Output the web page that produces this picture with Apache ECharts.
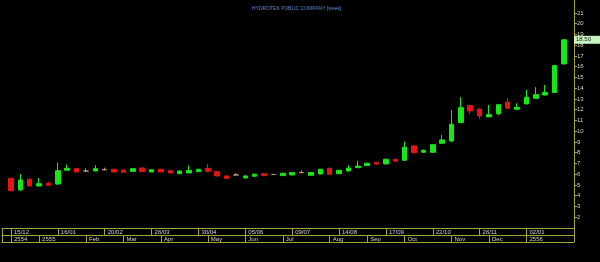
<!DOCTYPE html>
<html>
<head>
<meta charset="utf-8">
<script src="https://cdn.jsdelivr.net/npm/echarts@6/dist/echarts.min.js"></script>
<style>
html,body{margin:0;padding:0;background:#000;}
#main{width:600px;height:262px;}
</style>
</head>
<body>
<div id="main"></div>
<script>
// week index 0..59 (weekly bars from 15/12/2554)
const opens  = [5.62,4.55,5.53,4.91,5.15,5.09,6.37,6.52,6.30,6.30,6.42,6.46,6.39,6.27,6.58,6.21,6.46,6.33,6.05,6.12,
                6.24,6.55,6.24,5.84,5.93,5.65,5.81,6.05,5.98,5.87,5.93,6.15,5.90,6.02,6.55,6.05,6.30,6.61,6.80,7.10,
                6.96,7.39,7.30,8.63,8.04,8.04,8.88,9.09,10.80,12.38,12.07,11.33,11.63,12.69,12.04,12.54,13.06,13.37,13.60,16.26];
const closes = [4.47,5.47,4.91,5.12,4.98,6.33,6.55,6.21,6.30,6.52,6.42,6.21,6.18,6.52,6.24,6.42,6.21,6.12,6.30,6.35,
                6.46,6.27,5.84,5.62,5.93,5.84,6.00,5.87,5.98,6.09,6.15,6.15,6.15,6.46,6.00,6.37,6.58,6.76,7.02,6.95,
                7.39,7.21,8.51,8.00,8.23,8.75,9.19,10.65,12.19,11.88,11.42,11.54,12.47,12.14,12.22,13.16,13.40,13.60,16.10,18.50];
const lows   = [4.45,4.45,4.85,4.85,4.95,5.00,6.35,6.20,6.25,6.28,6.40,6.20,6.15,6.25,6.22,6.20,6.20,6.10,6.02,6.10,
                6.20,6.25,5.80,5.60,5.90,5.63,5.78,5.85,5.95,5.85,5.90,6.12,5.88,6.00,5.95,6.02,6.28,6.60,6.78,6.92,
                6.90,7.20,7.25,7.95,8.00,8.00,8.85,9.00,10.75,11.60,11.11,11.30,11.50,12.10,12.00,12.50,13.00,13.30,13.55,16.20];
const highs  = [5.65,6.02,5.60,5.65,5.30,7.08,6.89,6.55,6.55,6.85,6.61,6.50,6.42,6.55,6.60,6.45,6.50,6.35,6.35,6.80,
                6.50,6.95,6.28,5.88,6.09,5.88,6.05,6.08,6.02,6.12,6.20,6.35,6.18,6.50,6.60,6.40,6.84,7.24,7.10,7.15,
                7.45,7.45,9.03,8.70,8.30,8.80,9.65,11.95,13.16,12.45,12.10,12.44,12.50,13.07,12.60,13.84,14.09,14.30,16.15,18.55];

const weekLabels   = ['15/12','16/01','20/02','26/03','30/04','05/06','09/07','14/08','17/09','22/10','26/11','02/01'];
const weekLabelIdx = [0,5,10,15,20,25,30,35,40,45,50,55];
const monthLabels   = ['2554','2555','Feb','Mar','Apr','May','Jun','Jul','Aug','Sep','Oct','Nov','Dec','2556'];
const monthLabelIdx = [0,3,8,12,16,21,25,29,34,38,42,47,51,55];
const yTicks = [2,3,4,5,6,7,8,9,10,11,12,13,14,15,16,17,18,19,20,21];
const lastPrice = 18.50;
const title = 'HYDROTEK PUBLIC COMPANY [week]';

const xMin = -0.96, xMax = 60.07;
const olive = '#a4a431';
const txt = '#d2d2d2';
const font = 'Liberation Sans';

const candles = opens.map((o, i) => [i, o, closes[i], lows[i], highs[i]]);
const wkMap = {}; weekLabelIdx.forEach((v, k) => wkMap[v] = weekLabels[k]);
const moMap = {}; monthLabelIdx.forEach((v, k) => moMap[v] = monthLabels[k]);

function rowAxis(offset, idx, map, showTicks) {
  return {
    type: 'value', gridIndex: 0, position: 'bottom', offset: offset,
    min: xMin, max: xMax,
    splitLine: {show: false},
    axisLine: {show: true, onZero: false, lineStyle: {color: olive, width: 1}},
    axisTick: {show: showTicks, inside: false, length: 7, lineStyle: {color: olive, width: 1},
               customValues: showTicks ? [xMin].concat(idx).concat([xMax]) : undefined},
    axisLabel: {show: showTicks, customValues: showTicks ? idx : undefined, margin: 1,
                align: 'left', padding: [0, 0, 0, 3],
                color: txt, fontSize: 6, fontFamily: font,
                formatter: v => map ? (map[Math.round(v)] || '') : ''}
  };
}

const chart = echarts.init(document.getElementById('main'), null, {renderer: 'canvas'});
chart.setOption({
  animation: false,
  backgroundColor: '#000',
  title: {text: title, left: 247, top: 1,
          textStyle: {color: '#5f86d8', fontSize: 5, fontWeight: 'normal', fontFamily: font}},
  grid: {left: 2, right: 26, top: 0, bottom: 34, containLabel: false},
  xAxis: [
    {type: 'value', min: xMin, max: xMax, show: false, splitLine: {show: false}},
    rowAxis(0, weekLabelIdx, wkMap, true),
    rowAxis(7, monthLabelIdx, moMap, true),
    rowAxis(14, [], null, false)
  ],
  yAxis: {
    type: 'value', position: 'right', min: 1, max: 22.2, interval: 1,
    splitLine: {show: false},
    axisLine: {show: true, onZero: false, lineStyle: {color: olive, width: 1}},
    axisTick: {show: true, inside: false, length: 3, customValues: yTicks, lineStyle: {color: olive}},
    axisLabel: {customValues: yTicks, color: txt, fontSize: 6, fontFamily: font, margin: 3}
  },
  series: [{
    type: 'candlestick',
    xAxisIndex: 0,
    data: candles,
    barWidth: 5,
    itemStyle: {
      color: '#19e619', color0: '#e61414',
      borderColor: '#19e619', borderColor0: '#e61414',
      borderColorDoji: '#c0a06a', borderWidth: 1
    },
    markLine: {
      silent: true, symbol: 'none',
      lineStyle: {color: 'rgba(0,0,0,0)', width: 0, type: 'solid'},
      data: [{yAxis: lastPrice}],
      label: {show: true, position: 'end', distance: 0, formatter: lastPrice.toFixed(2),
              backgroundColor: '#c6f3bf', color: '#111', fontSize: 6, fontFamily: font,
              padding: [1, 10, 1, 2]},
      z: 10
    }
  }]
});
</script>
</body>
</html>
